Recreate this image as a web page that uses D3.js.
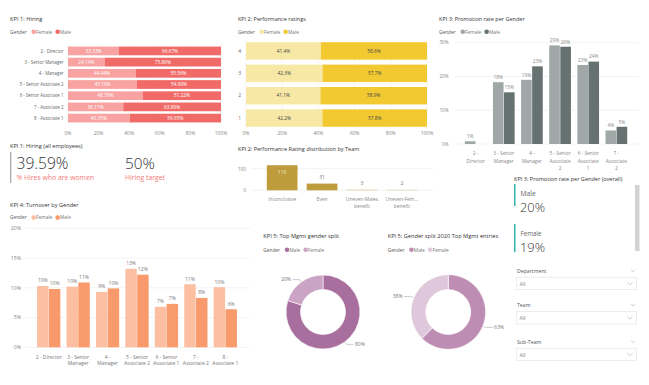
<!DOCTYPE html>
<html><head><meta charset="utf-8">
<script src="https://cdn.jsdelivr.net/npm/d3@7/dist/d3.min.js"></script>
<style>
html,body{margin:0;padding:0;background:#fff;}
svg text{font-family:"Open Sans","Noto Sans",sans-serif;}
</style></head>
<body>
<svg id="c" width="649" height="385"></svg>
<script>
// ---------- DATA ----------
const hiringLevels = ["2 - Director","3 - Senior Manager","4 - Manager","5 - Senior Associate 2","6 - Senior Associate 1","7 - Associate 2","8 - Associate 1"];
const hiringFemale = [33.33,24.14,44.44,45.10,48.78,36.11,40.35];
const hiringMale   = [66.67,75.86,55.56,54.90,51.22,63.89,59.65];
const pctTicks = [0,20,40,60,80,100];

const perfRatings = ["4","3","2","1"];
const perfFemale = [41.4,42.3,41.1,42.2];
const perfMale   = [58.6,57.7,58.9,57.8];

const promoLevels = [["2 -","Director"],["3 - Senior","Manager"],["4 -","Manager"],["5 - Senior","Associate","2"],["6 - Senior","Associate","1"],["7 -","Associate","2"]];
const promoFemale = [0.8,18.3,19.0,29.2,23.4,4.0];
const promoMale   = [null,15.3,23.0,28.8,24.4,5.1];
const promoTicks = [0,10,20,30];

const teamCats = [["Inconclusive"],["Even"],["Uneven-Males","benefit"],["Uneven-Fem...","benefit"]];
const teamCounts = [116,31,3,2];
const teamTicks = [0,100];

const turnLevels = [["2 - Director"],["3 - Senior","Manager"],["4 -","Manager"],["5 - Senior","Associate 2"],["6 - Senior","Associate 1"],["7 -","Associate 2"],["8 -","Associate 1"]];
const turnFemale = [10.3,10.2,9.3,13.2,6.8,10.6,10.1];
const turnMale   = [9.8,10.9,9.9,12.2,7.3,8.3,6.4];
const turnTicks = [0,5,10,15,20];

const mgmtGenders = ["Male","Female"];
const mgmtSplit = [80,20];
const entryGenders = ["Male","Female"];
const entrySplit = [62.5,37.5];

const overallGenders = ["Male","Female"];
const overallRates = ["20%","19%"];

const hiringKpi = "39.59%";
const hiringTarget = "50%";

const slicers = ["Department","Team","Sub-Team"];

// ---------- DRAW ----------
const svg = d3.select("#c");
const TC = "#333", AX = "#888";

function fit(t,w){
  const L = t.node().getComputedTextLength();
  if(L>0) t.attr("font-size", (+t.attr("font-size"))*w/L);
  return t;
}
function title(x,y,t,w){
  const s = svg.append("text").attr("x",x).attr("y",y).attr("font-size",6).attr("fill",TC).text(t);
  return fit(s,w);
}
function legend(x,y,items){
  const g = svg.append("g");
  const t0 = g.append("text").attr("x",x).attr("y",y).attr("font-size",4.8).attr("fill","#555").text("Gender");
  let cx = x + t0.node().getComputedTextLength() + 7;
  items.forEach(([lab,col])=>{
    g.append("circle").attr("cx",cx).attr("cy",y-1.7).attr("r",2.3).attr("fill",col);
    const t = g.append("text").attr("x",cx+2.4).attr("y",y).attr("font-size",4.8).attr("fill","#777").text(lab);
    cx += 2.4 + t.node().getComputedTextLength() + 5.3;
  });
}
function multiline(g,x,y,lines,size,col,lh){
  const t = g.append("text").attr("x",x).attr("y",y).attr("font-size",size).attr("fill",col).attr("text-anchor","middle");
  lines.forEach((l,i)=>t.append("tspan").attr("x",x).attr("dy",i?lh:0).text(l));
}

// KPI 1: Hiring (100% stacked bar)
{
  const FC="#F8A3A1", MC="#F06B68";
  title(10,20.5,"KPI 1: Hiring",32.3);
  legend(10,33.5,[["Female",FC],["Male",MC]]);
  const x = d3.scaleLinear().domain([0,100]).range([68,221]);
  const y = d3.scaleBand().domain(hiringLevels).range([46,123]).paddingInner(0.22).paddingOuter(0.05);
  const g = svg.append("g");
  pctTicks.forEach(t=>{
    g.append("line").attr("x1",x(t)).attr("x2",x(t)).attr("y1",44).attr("y2",125).attr("stroke","#eee").attr("stroke-width",0.6);
    g.append("text").attr("x",x(t)).attr("y",134.5).attr("font-size",5).attr("fill",AX).attr("text-anchor","middle").text(t+"%");
  });
  hiringLevels.forEach((l,i)=>{
    const yy=y(l), h=y.bandwidth();
    g.append("rect").attr("x",x(0)).attr("y",yy).attr("width",x(hiringFemale[i])-x(0)).attr("height",h).attr("fill",FC);
    g.append("rect").attr("x",x(hiringFemale[i])).attr("y",yy).attr("width",x(100)-x(hiringFemale[i])).attr("height",h).attr("fill",MC);
    g.append("text").attr("x",x(hiringFemale[i]/2)).attr("y",yy+h/2+1.7).attr("font-size",4.8).attr("fill","#fff").attr("text-anchor","middle").text(hiringFemale[i].toFixed(2)+"%");
    g.append("text").attr("x",x(hiringFemale[i]+hiringMale[i]/2)).attr("y",yy+h/2+1.7).attr("font-size",4.8).attr("fill","#fff").attr("text-anchor","middle").text(hiringMale[i].toFixed(2)+"%");
    g.append("text").attr("x",63.5).attr("y",yy+h/2+1.8).attr("font-size",4.45).attr("fill","#666").attr("text-anchor","end").text(l);
  });
}

// KPI 2: Performance ratings
{
  const FC="#F7E8A6", MC="#F2C931";
  title(238,20.5,"KPI 2: Performance ratings",68);
  legend(238,33.5,[["Female",FC],["Male",MC]]);
  const x = d3.scaleLinear().domain([0,100]).range([246,427]);
  const y = d3.scaleBand().domain(perfRatings).range([40,129]).paddingInner(0.22).paddingOuter(0.1);
  const g = svg.append("g");
  pctTicks.forEach(t=>{
    g.append("line").attr("x1",x(t)).attr("x2",x(t)).attr("y1",40).attr("y2",129).attr("stroke","#eee").attr("stroke-width",0.6);
    g.append("text").attr("x",x(t)).attr("y",134.5).attr("font-size",5).attr("fill",AX).attr("text-anchor","middle").text(t+"%");
  });
  perfRatings.forEach((r,i)=>{
    const yy=y(r), h=y.bandwidth();
    g.append("rect").attr("x",x(0)).attr("y",yy).attr("width",x(perfFemale[i])-x(0)).attr("height",h).attr("fill",FC);
    g.append("rect").attr("x",x(perfFemale[i])).attr("y",yy).attr("width",x(100)-x(perfFemale[i])).attr("height",h).attr("fill",MC);
    g.append("text").attr("x",x(perfFemale[i]/2)).attr("y",yy+h/2+1.8).attr("font-size",4.8).attr("fill","#444").attr("text-anchor","middle").text(perfFemale[i].toFixed(1)+"%");
    g.append("text").attr("x",x(perfFemale[i]+perfMale[i]/2)).attr("y",yy+h/2+1.8).attr("font-size",4.8).attr("fill","#444").attr("text-anchor","middle").text(perfMale[i].toFixed(1)+"%");
    g.append("text").attr("x",241).attr("y",yy+h/2+1.8).attr("font-size",5).attr("fill","#666").attr("text-anchor","end").text(r);
  });
}

// KPI 3: Promotion rate per Gender
{
  const FC="#9FA7A7", MC="#667270";
  title(439,20.5,"KPI 3: Promotion rate per Gender",86);
  legend(439,33.5,[["Female",FC],["Male",MC]]);
  const y = d3.scaleLinear().domain([0,30]).range([144,42.7]);
  const keys = promoLevels.map(d=>d.join(" "));
  const x0 = d3.scaleBand().domain(keys).range([462,630]).paddingInner(0.23).paddingOuter(0.1);
  const x1 = d3.scaleBand().domain(["F","M"]).range([0,x0.bandwidth()]).paddingInner(0.04);
  const g = svg.append("g");
  promoTicks.forEach(t=>{
    g.append("line").attr("x1",455).attr("x2",639).attr("y1",y(t)).attr("y2",y(t)).attr("stroke","#eee").attr("stroke-width",0.7);
    g.append("text").attr("x",448.5).attr("y",y(t)+1.7).attr("font-size",4.6).attr("fill",AX).attr("text-anchor","end").text(t+"%");
  });
  keys.forEach((k,i)=>{
    [["F",promoFemale[i],FC],["M",promoMale[i],MC]].forEach(([s,v,c])=>{
      if(v==null) return;
      const xx = x0(k)+x1(s);
      g.append("rect").attr("x",xx).attr("y",y(v)).attr("width",x1.bandwidth()).attr("height",y(0)-y(v)).attr("fill",c);
      g.append("text").attr("x",xx+x1.bandwidth()/2).attr("y",y(v)-3.2).attr("font-size",4.8).attr("fill","#888").attr("text-anchor","middle").text(Math.round(v)+"%");
    });
    multiline(g,x0(k)+x0.bandwidth()/2,155.3,promoLevels[i],4.8,"#888",7.2);
  });
}

// KPI 1: Hiring (all employees) card
{
  title(10,147.5,"KPI 1: Hiring (all employees)",72.7);
  svg.append("rect").attr("x",10).attr("y",152).attr("width",1.3).attr("height",31).attr("fill","#aaa");
  fit(svg.append("text").attr("x",16.5).attr("y",169).attr("font-size",15).attr("font-weight",300).attr("fill","#333").text(hiringKpi),52);
  fit(svg.append("text").attr("x",16.5).attr("y",180).attr("font-size",7).attr("fill","#F47B78").text("% Hires who are women"),77.6);
  fit(svg.append("text").attr("x",125).attr("y",169).attr("font-size",15).attr("font-weight",300).attr("fill","#333").text(hiringTarget),30);
  fit(svg.append("text").attr("x",125).attr("y",180).attr("font-size",7).attr("fill","#F47B78").text("Hiring target"),40);
}

// KPI 2: Performance Rating distribution by Team
{
  const C="#BE9C3B";
  title(238,150.5,"KPI 2: Performance Rating distribution by Team",121.7);
  const y = d3.scaleLinear().domain([0,100]).range([190.3,168.7]);
  const keys = teamCats.map(d=>d.join(" "));
  const x = d3.scaleBand().domain(keys).range([262,422]).paddingInner(0.23).paddingOuter(0.12);
  const g = svg.append("g");
  teamTicks.forEach(t=>{
    g.append("line").attr("x1",251).attr("x2",433).attr("y1",y(t)).attr("y2",y(t)).attr("stroke","#eee").attr("stroke-width",0.7);
    g.append("text").attr("x",246).attr("y",y(t)+1.8).attr("font-size",4.8).attr("fill",AX).attr("text-anchor","end").text(t);
  });
  keys.forEach((k,i)=>{
    const v=teamCounts[i];
    g.append("rect").attr("x",x(k)).attr("y",y(v)).attr("width",x.bandwidth()).attr("height",y(0)-y(v)).attr("fill",C).attr("opacity",v<10?0.55:1);
    const inside = (y(0)-y(v))>15;
    g.append("text").attr("x",x(k)+x.bandwidth()/2).attr("y",inside?y(v)+8.5:y(v)-4.5)
      .attr("font-size",5).attr("fill",inside?"#f4ecd6":"#777").attr("text-anchor","middle").text(v);
    multiline(g,x(k)+x.bandwidth()/2,200.8,teamCats[i],4.9,"#888",7.2);
  });
}

// KPI 4: Turnover by Gender
{
  const FC="#FCBFA2", MC="#F89A6C";
  title(10,206.5,"KPI 4: Turnover by Gender",68.7);
  legend(10,219.3,[["Female",FC],["Male",MC]]);
  const y = d3.scaleLinear().domain([0,20]).range([347.3,228.3]);
  const keys = turnLevels.map(d=>d.join(" "));
  const x0 = d3.scaleBand().domain(keys).range([34,240]).paddingInner(0.21).paddingOuter(0.105);
  const x1 = d3.scaleBand().domain(["F","M"]).range([0,x0.bandwidth()]).paddingInner(0.03);
  const g = svg.append("g");
  turnTicks.forEach(t=>{
    g.append("line").attr("x1",25).attr("x2",250).attr("y1",y(t)).attr("y2",y(t)).attr("stroke","#eee").attr("stroke-width",0.7);
    g.append("text").attr("x",21).attr("y",y(t)+1.8).attr("font-size",5.2).attr("fill",AX).attr("text-anchor","end").text(t+"%");
  });
  keys.forEach((k,i)=>{
    [["F",turnFemale[i],FC],["M",turnMale[i],MC]].forEach(([s,v,c])=>{
      const xx = x0(k)+x1(s);
      g.append("rect").attr("x",xx).attr("y",y(v)).attr("width",x1.bandwidth()).attr("height",y(0)-y(v)).attr("fill",c);
      g.append("text").attr("x",xx+x1.bandwidth()/2).attr("y",y(v)-3.6).attr("font-size",5).attr("fill","#777").attr("text-anchor","middle").text(Math.round(v)+"%");
    });
    multiline(g,x0(k)+x0.bandwidth()/2,358.6,turnLevels[i],5,"#777",6.8);
  });
}

// Donuts
function donut(cx,cy,r,ir,vals,cols){
  const pie = d3.pie().sort(null).value(d=>d)(vals);
  const arc = d3.arc().innerRadius(ir).outerRadius(r);
  const g = svg.append("g").attr("transform",`translate(${cx},${cy})`);
  g.selectAll("path").data(pie).join("path").attr("d",arc).attr("fill",(d,i)=>cols[i]).attr("stroke","#fff").attr("stroke-width",0.6);
  pie.forEach((p,i)=>{
    const a=(p.startAngle+p.endAngle)/2;
    const px=Math.sin(a)*(r+0.5), py=-Math.cos(a)*(r+0.5);
    const ex=Math.sin(a)*(r+3), ey=-Math.cos(a)*(r+3);
    const right = px>0;
    const hx = ex + (right?7:-7);
    g.append("polyline").attr("points",`${px},${py} ${ex},${ey} ${hx},${ey}`).attr("fill","none").attr("stroke","#aaa").attr("stroke-width",0.6);
    g.append("text").attr("x",hx+(right?1.5:-1.5)).attr("y",ey+1.8).attr("font-size",5).attr("fill","#777")
      .attr("text-anchor",right?"start":"end").text(Math.round(vals[i])+"%");
  });
}
{
  title(263.3,238,"KPI 5: Top Mgmt gender split",76);
  legend(263.3,251.5,[[mgmtGenders[0],"#A86E9E"],[mgmtGenders[1],"#CBA3C4"]]);
  donut(323,312,37,22.5,mgmtSplit,["#A86E9E","#CBA3C4"]);
  title(387.7,238,"KPI 5: Gender split 2020 Top Mgmt entries",110.7);
  legend(387.7,251.5,[[entryGenders[0],"#BD8DB4"],[entryGenders[1],"#E0C8DC"]]);
  donut(448.3,312,37.3,22.5,entrySplit,["#BD8DB4","#E0C8DC"]);
}

// KPI 3 overall card
{
  title(514,180.5,"KPI 3: Promotion rate per Gender (overall)",108.7);
  svg.append("rect").attr("x",635).attr("y",185).attr("width",4.5).attr("height",66).attr("fill","#d2d2d2");
  overallGenders.forEach((gname,i)=>{
    const y0 = 184 + i*40;
    svg.append("rect").attr("x",514).attr("y",y0).attr("width",1.5).attr("height",i?28:22).attr("fill","#2DB6A8");
    fit(svg.append("text").attr("x",520.5).attr("y",y0+11.5).attr("font-size",7).attr("fill","#666").text(gname), i?21:15.3);
    fit(svg.append("text").attr("x",520).attr("y",y0+28).attr("font-size",13).attr("font-weight",300).attr("fill","#333").text(overallRates[i]),25);
  });
}

// Slicers
function chev(x,y,s){ svg.append("polyline").attr("points",`${x-s},${y-s/2} ${x},${y+s/2} ${x+s},${y-s/2}`).attr("fill","none").attr("stroke","#aaa").attr("stroke-width",0.6); }
slicers.forEach((s,i)=>{
  const y0 = [270.7,305,341.7][i];
  svg.append("text").attr("x",517).attr("y",y0+1.8).attr("font-size",5.2).attr("fill","#555").text(s);
  chev(633,y0,1.8);
  const by = y0+6.5;
  svg.append("rect").attr("x",516.5).attr("y",by).attr("width",120).attr("height",12.5).attr("fill","#fff").attr("stroke","#e6e6e6").attr("stroke-width",0.7);
  svg.append("text").attr("x",519.5).attr("y",by+8.3).attr("font-size",5.4).attr("fill","#888").text("All");
  chev(630,by+6.3,2.6);
});
</script>
</body></html>
